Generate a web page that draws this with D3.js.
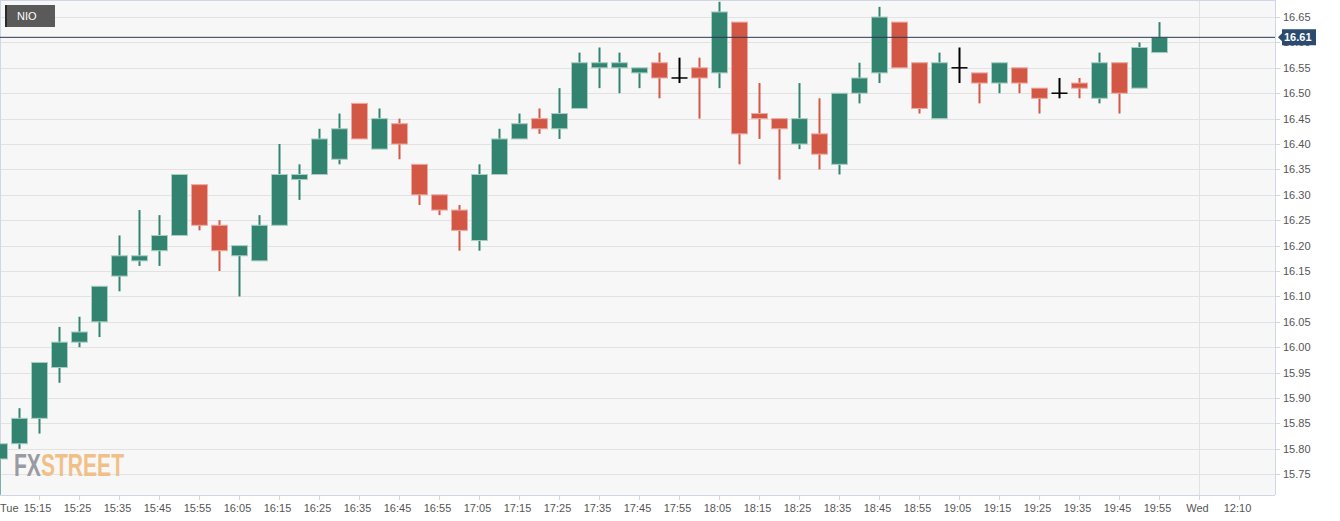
<!DOCTYPE html>
<html>
<head>
<meta charset="utf-8">
<script src="https://cdn.jsdelivr.net/npm/d3@7"></script>
<style>
body { margin: 0; background: #fff; }
text { font-family: Arial, "Liberation Sans", sans-serif; }
</style>
</head>
<body>
<div id="chart"></div>
<script>
var svgWidth = 1340;
var svgHeight = 521;

var chartMargin = { top: 0, right: 65, bottom: 26, left: 0 };
var chartWidth = svgWidth - chartMargin.left - chartMargin.right;
var chartHeight = svgHeight - chartMargin.top - chartMargin.bottom;

// 5-minute candles, starting 15:05
var opens  = [15.78,15.81,15.86,15.96,16.01,16.05,16.14,16.17,16.19,16.22,16.32,16.24,16.18,16.17,16.24,16.33,16.34,16.37,16.48,16.39,16.44,16.36,16.30,16.27,16.21,16.34,16.41,16.45,16.43,16.47,16.55,16.55,16.54,16.56,16.53,16.55,16.54,16.64,16.46,16.45,16.40,16.42,16.36,16.50,16.54,16.64,16.56,16.45,16.55,16.54,16.52,16.55,16.51,16.50,16.52,16.49,16.56,16.51,16.58];
var closes = [15.81,15.86,15.97,16.01,16.03,16.12,16.18,16.18,16.22,16.34,16.24,16.19,16.20,16.24,16.34,16.34,16.41,16.43,16.41,16.45,16.40,16.30,16.27,16.23,16.34,16.41,16.44,16.43,16.46,16.56,16.56,16.56,16.55,16.53,16.53,16.53,16.66,16.42,16.45,16.43,16.45,16.38,16.50,16.53,16.65,16.55,16.47,16.56,16.55,16.52,16.56,16.52,16.49,16.50,16.51,16.56,16.50,16.59,16.61];
var highs  = [15.81,15.88,15.97,16.04,16.06,16.12,16.22,16.27,16.26,16.34,16.32,16.25,16.20,16.26,16.40,16.36,16.43,16.46,16.48,16.47,16.45,16.36,16.30,16.28,16.36,16.43,16.46,16.47,16.51,16.58,16.59,16.58,16.55,16.58,16.57,16.57,16.68,16.64,16.52,16.45,16.52,16.49,16.50,16.56,16.67,16.64,16.56,16.58,16.59,16.54,16.56,16.55,16.51,16.53,16.53,16.58,16.56,16.60,16.64];
var lows   = [15.71,15.80,15.83,15.93,16.00,16.02,16.11,16.16,16.16,16.22,16.23,16.15,16.10,16.17,16.24,16.29,16.34,16.36,16.41,16.39,16.37,16.28,16.26,16.19,16.19,16.34,16.41,16.42,16.41,16.47,16.51,16.50,16.51,16.49,16.52,16.45,16.51,16.36,16.41,16.33,16.39,16.35,16.34,16.48,16.52,16.55,16.46,16.45,16.52,16.48,16.50,16.50,16.46,16.49,16.49,16.48,16.46,16.51,16.58];

var xTickIdx = [2,4,6,8,10,12,14,16,18,20,22,24,26,28,30,32,34,36,38,40,42,44,46,48,50,52,54,56,58,60,62];
var xTickLabels = ["15:15","15:25","15:35","15:45","15:55","16:05","16:15","16:25","16:35","16:45","16:55","17:05","17:15","17:25","17:35","17:45","17:55","18:05","18:15","18:25","18:35","18:45","18:55","19:05","19:15","19:25","19:35","19:45","19:55","Wed","12:10"];
var yTicks = [15.75,15.80,15.85,15.90,15.95,16.00,16.05,16.10,16.15,16.20,16.25,16.30,16.35,16.40,16.45,16.50,16.55,16.60,16.65];
var lastPrice = 16.61;

var svg = d3.select("#chart").append("svg")
    .attr("width", svgWidth).attr("height", svgHeight);

var chartGroup = svg.append("g")
    .attr("transform", `translate(${chartMargin.left}, ${chartMargin.top})`);

var x = d3.scaleLinear().domain([0, 63.75]).range([-0.5, chartWidth - 0.5]);
var y = d3.scaleLinear().domain([15.7091, 16.6835]).range([chartHeight, 0]);

chartGroup.append("rect").attr("width", chartWidth).attr("height", chartHeight).attr("fill", "#f7f7f7");

// grid
chartGroup.selectAll(".hgrid").data(yTicks).enter().append("line")
    .attr("x1", 0).attr("x2", chartWidth)
    .attr("y1", d => Math.round(y(d)) + 0.5).attr("y2", d => Math.round(y(d)) + 0.5)
    .attr("stroke", "#e2e2e2").attr("stroke-width", 1);
chartGroup.append("line")
    .attr("x1", x(60)).attr("x2", x(60)).attr("y1", 0).attr("y2", chartHeight)
    .attr("stroke", "#e2e2e2");

// borders
chartGroup.append("line").attr("x1", 0).attr("x2", chartWidth).attr("y1", 0.5).attr("y2", 0.5).attr("stroke", "#cfd6e6");
chartGroup.append("line").attr("x1", 0.5).attr("x2", 0.5).attr("y1", 0).attr("y2", chartHeight).attr("stroke", "#cfd6e6");
chartGroup.append("line").attr("x1", chartWidth + 0.5).attr("x2", chartWidth + 0.5).attr("y1", 0).attr("y2", chartHeight).attr("stroke", "#cfd6e6");

// watermark
var wm = chartGroup.append("text").attr("x", 14).attr("y", 476)
    .attr("font-family", "'DejaVu Sans Condensed', 'Liberation Sans Narrow', sans-serif")
    .attr("font-weight", "bold").attr("font-size", 32).attr("textLength", 110).attr("lengthAdjust", "spacingAndGlyphs");
wm.append("tspan").attr("fill", "#9a9aa2").text("FX");
wm.append("tspan").attr("fill", "#f0c088").text("STREET");

var candles = d3.range(opens.length).map(i => ({ i: i, o: opens[i], c: closes[i], h: highs[i], l: lows[i] }));
function col(d) { return d.c > d.o ? "#32836f" : (d.c < d.o ? "#d35745" : "#000"); }
function edge(d) { return d.c > d.o ? "#a9cfc4" : "#ecaaa2"; }

var g = chartGroup.append("g").attr("clip-path", "url(#clip)");
svg.append("clipPath").attr("id", "clip").append("rect").attr("width", chartWidth).attr("height", chartHeight);

g.selectAll(".wick").data(candles).enter().append("line")
    .attr("x1", d => x(d.i)).attr("x2", d => x(d.i))
    .attr("y1", d => y(d.h)).attr("y2", d => y(d.l))
    .attr("stroke", col).attr("stroke-width", 2);

g.selectAll(".body").data(candles.filter(d => d.c !== d.o)).enter().append("rect")
    .attr("x", d => x(d.i) - 8).attr("width", 16)
    .attr("y", d => y(Math.max(d.o, d.c)))
    .attr("height", d => Math.max(3, Math.abs(y(d.o) - y(d.c))))
    .attr("fill", col).attr("stroke", edge).attr("stroke-width", 1);

g.selectAll(".doji").data(candles.filter(d => d.c === d.o)).enter().append("line")
    .attr("x1", d => x(d.i) - 8).attr("x2", d => x(d.i) + 8)
    .attr("y1", d => y(d.o)).attr("y2", d => y(d.o))
    .attr("stroke", "#000").attr("stroke-width", 1.5);

// x axis
var xAxis = chartGroup.append("g").attr("transform", `translate(0, ${chartHeight})`);
xAxis.append("line").attr("x1", 0).attr("x2", chartWidth).attr("y1", 0.5).attr("y2", 0.5).attr("stroke", "#cfd6e6");
xAxis.selectAll(".xt").data(xTickIdx).enter().append("line")
    .attr("x1", d => x(d)).attr("x2", d => x(d)).attr("y1", 0).attr("y2", 5).attr("stroke", "#cfd6e6");
xAxis.selectAll(".xl").data(xTickIdx).enter().append("text")
    .attr("x", d => x(d) - 2).attr("y", 17).attr("text-anchor", "middle")
    .attr("font-size", 11).attr("fill", "#555").text((d, i) => xTickLabels[i]);
xAxis.append("text").attr("x", 0).attr("y", 17).attr("font-size", 11).attr("fill", "#555").text("Tue");

// y axis
var yAxisG = chartGroup.append("g").attr("transform", `translate(${chartWidth}, 0)`);
yAxisG.selectAll(".yt").data(yTicks).enter().append("line")
    .attr("x1", 0).attr("x2", 5).attr("y1", d => Math.round(y(d)) + 0.5).attr("y2", d => Math.round(y(d)) + 0.5)
    .attr("stroke", "#cfd6e6");
yAxisG.selectAll(".yl").data(yTicks).enter().append("text")
    .attr("x", 8).attr("y", d => y(d) + 4).attr("font-size", 11).attr("fill", "#555")
    .text(d => d.toFixed(2));

// last price line + label
chartGroup.append("line").attr("x1", 0).attr("x2", chartWidth)
    .attr("y1", y(lastPrice)).attr("y2", y(lastPrice)).attr("stroke", "#2a3a50").attr("stroke-width", 1);
var lp = yAxisG.append("g").attr("transform", `translate(0, ${y(lastPrice)})`);
lp.append("path").attr("d", "M3,0 L7,-4 L7,-8 L41,-8 L41,8 L7,8 L7,4 Z").attr("fill", "#2a4a70");
lp.append("text").attr("x", 9).attr("y", 4).attr("font-size", 11).attr("font-weight", "bold")
    .attr("fill", "#fff").text(lastPrice.toFixed(2));

// legend
var lg = chartGroup.append("g").attr("transform", "translate(5,5)");
lg.append("rect").attr("width", 50).attr("height", 22).attr("fill", "#5a5a5a");
lg.append("rect").attr("width", 2).attr("height", 22).attr("fill", "#2a2a2a");
lg.append("text").attr("x", 12).attr("y", 15).attr("font-size", 11).attr("fill", "#fff").text("NIO");
</script>
</body>
</html>
